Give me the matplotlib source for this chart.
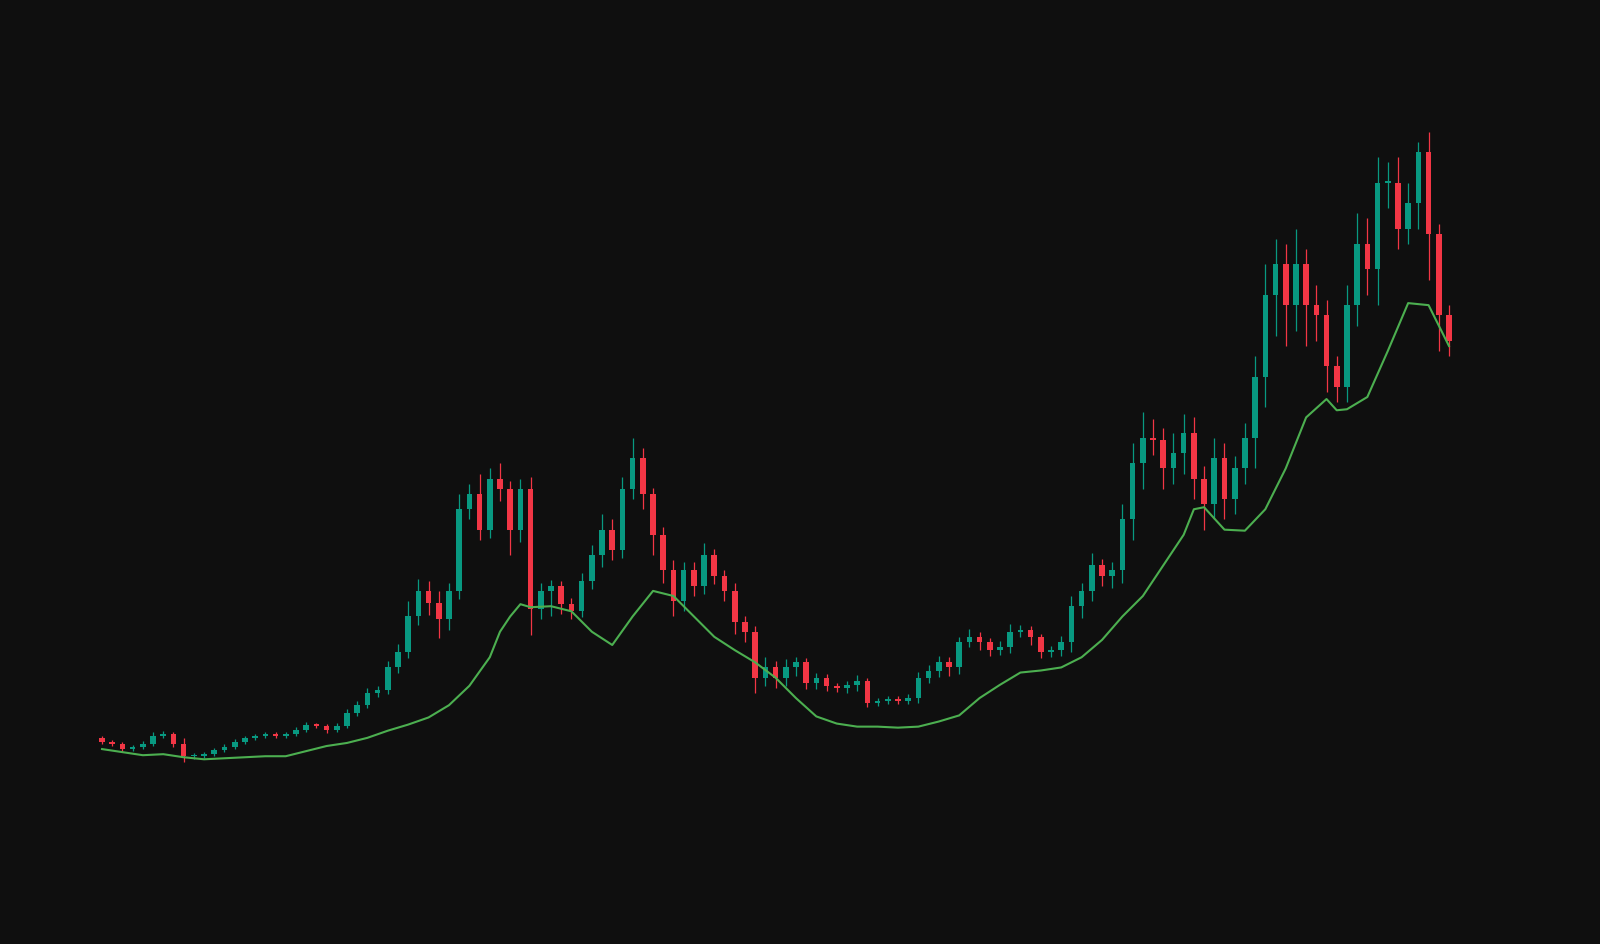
import matplotlib
matplotlib.use("Agg")
from matplotlib import pyplot as plt

# closes, read as pixel rows from the reference (converted to price below)
close_px = [728, 730, 735, 733, 730, 722, 720, 730, 742, 742, 740, 736, 733, 728, 724, 722, 720, 722, 720, 716,
            711, 712, 716, 712, 700, 692, 680, 677, 655, 640, 605, 580, 592, 608, 580, 500, 485, 520, 470, 480,
            520, 480, 598, 580, 575, 593, 600, 570, 545, 520, 540, 480, 450, 485, 525, 560, 590, 560, 575, 545,
            565, 580, 610, 620, 665, 655, 665, 655, 650, 670, 665, 673, 675, 672, 668, 690, 688, 686, 688, 685,
            665, 658, 650, 655, 630, 625, 630, 638, 635, 620, 618, 625, 640, 638, 630, 595, 580, 555, 565, 560,
            510, 455, 430, 432, 460, 445, 425, 470, 495, 450, 490, 460, 430, 370, 290, 260, 300, 260, 300, 310,
            360, 380, 300, 240, 265, 180, 180, 225, 200, 150, 230, 310, 335]
upper_wick = [2, 2, 2, 2, 3, 4, 3, 2, 6, 3, 2, 2, 3, 3, 2, 2, 2, 2, 2, 3,
              3, 2, 2, 3, 4, 4, 5, 4, 6, 8, 15, 12, 10, 12, 8, 15, 10, 20, 10, 15,
              8, 10, 12, 8, 6, 5, 6, 8, 10, 15, 10, 12, 20, 10, 6, 8, 10, 8, 8, 12,
              6, 5, 8, 5, 6, 10, 6, 8, 5, 4, 5, 4, 3, 4, 6, 3, 3, 3, 3, 4,
              6, 5, 6, 5, 5, 8, 5, 4, 6, 8, 5, 4, 3, 4, 6, 10, 8, 12, 6, 8,
              15, 20, 25, 18, 12, 20, 18, 15, 12, 20, 15, 12, 15, 20, 30, 25, 20, 35, 15, 20,
              15, 10, 20, 30, 25, 25, 20, 25, 20, 10, 20, 10, 10]
lower_wick = [2, 2, 3, 2, 2, 2, 2, 3, 6, 3, 2, 2, 2, 2, 2, 2, 2, 2, 2, 2,
              2, 2, 3, 2, 2, 3, 3, 4, 4, 5, 6, 8, 12, 18, 10, 8, 10, 10, 8, 12,
              25, 12, 25, 10, 25, 10, 8, 6, 8, 12, 10, 8, 10, 15, 20, 12, 15, 10, 10, 8,
              8, 10, 12, 10, 15, 8, 10, 8, 8, 6, 6, 5, 4, 5, 6, 4, 3, 3, 3, 3,
              5, 5, 6, 8, 6, 5, 8, 6, 5, 6, 5, 8, 6, 5, 6, 10, 12, 10, 10, 12,
              12, 20, 25, 15, 20, 15, 20, 20, 25, 15, 20, 15, 15, 30, 30, 40, 40, 25, 40, 25,
              25, 15, 15, 20, 25, 35, 25, 20, 15, 25, 45, 35, 15]

ma_x = [100, 120, 140, 160, 180, 200, 220, 240, 260, 280, 300, 320, 340, 360, 380, 400, 420, 440, 460, 480,
        490, 500, 510, 520, 540, 560, 580, 600, 620, 640, 660, 680, 700, 720, 740, 760, 780, 800, 820, 840,
        860, 880, 900, 920, 940, 960, 980, 1000, 1020, 1040, 1060, 1080, 1100, 1120, 1140, 1160, 1170, 1180,
        1200, 1220, 1240, 1260, 1280, 1300, 1310, 1320, 1340, 1360, 1380, 1400, 1420]
ma_px = [735, 738, 741, 740, 743, 745, 744, 743, 742, 742, 737, 732, 729, 724, 717, 711, 704, 692, 673, 645,
         620, 605, 593, 596, 595, 600, 620, 633, 605, 580, 585, 605, 625, 638, 650, 665, 685, 703, 710, 713,
         713, 714, 713, 708, 702, 685, 672, 660, 658, 655, 645, 628, 605, 585, 555, 525, 500, 498,
         520, 521, 500, 460, 410, 392, 403, 402, 390, 345, 298, 300, 340]

H = 926
closes = [H - v for v in close_px]
opens = [H - 724] + closes[:-1]
xs = [100 + 10 * i for i in range(len(closes))]

fig = plt.figure(figsize=(16, 9.45), dpi=100, facecolor="#0f0f0f")
ax = fig.add_axes([0, 0, 1, 1])
ax.set_facecolor("#0f0f0f")

for x, o, c, uw, lw in zip(xs, opens, closes, upper_wick, lower_wick):
    col = "#089981" if c >= o else "#f23645"
    top, bot = max(o, c), min(o, c)
    ax.vlines(x, bot - lw, top + uw, color=col, lw=0.9)
    ax.bar(x, max(top - bot, 1.5), bottom=bot, width=5.5, color=col, lw=0)

ax.plot(ma_x, [H - v for v in ma_px], color="#4caf50", lw=1.5)

ax.set_xlim(0, 1568)
ax.set_ylim(0, H)
ax.axis("off")

plt.savefig("out.png", dpi=100, facecolor=fig.get_facecolor())
